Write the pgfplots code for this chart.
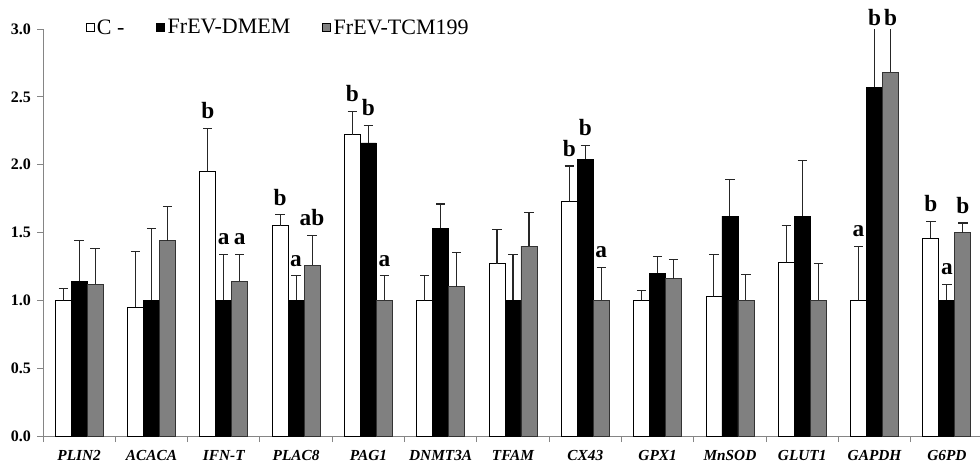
\documentclass[border=0pt]{standalone}
\usepackage{pgfplots}
\usepackage{pgfplotstable}
\pgfplotsset{compat=1.18}
\usepackage{fontspec}
\setmainfont{Liberation Serif}
\definecolor{axgray}{HTML}{858585}
\definecolor{bargray}{HTML}{808080}

% x  value  errtop
\pgfplotstableread{
x y top
0 1.00 1.09
1 0.95 1.36
2 1.95 2.27
3 1.55 1.63
4 2.22 2.39
5 1.00 1.18
6 1.27 1.52
7 1.73 1.99
8 1.00 1.07
9 1.03 1.34
10 1.28 1.55
11 1.00 1.40
12 1.46 1.58
}\cneg
\pgfplotstableread{
x y top
0 1.14 1.44
1 1.00 1.53
2 1.00 1.34
3 1.00 1.18
4 2.16 2.29
5 1.53 1.71
6 1.00 1.34
7 2.04 2.14
8 1.20 1.32
9 1.62 1.89
10 1.62 2.03
11 2.57 3.20
12 1.00 1.12
}\dmem
\pgfplotstableread{
x y top
0 1.12 1.38
1 1.44 1.69
2 1.14 1.34
3 1.26 1.48
4 1.00 1.18
5 1.10 1.35
6 1.40 1.65
7 1.00 1.24
8 1.16 1.30
9 1.00 1.19
10 1.00 1.27
11 2.68 3.30
12 1.50 1.57
}\tcm
\pgfplotstableread{
x y l
1.779 2.27 b
2 1.34 a
2.221 1.34 a
2.779 1.63 b
3 1.18 a
3.221 1.48 ab
3.779 2.39 b
4 2.29 b
4.221 1.18 a
6.779 1.99 b
7 2.14 b
7.221 1.24 a
10.779 1.40 a
11 2.95 b
11.221 2.95 b
11.779 1.58 b
12 1.12 a
12.221 1.57 b
}\letters

\begin{document}
\begin{tikzpicture}
\begin{axis}[
  scale only axis,
  width=705pt, height=305.25pt,
  xmin=-0.5, xmax=12.5,
  ymin=0, ymax=3,
  axis x line*=bottom, axis y line*=left,
  axis line style={draw=axgray, line width=0.7pt},
  clip mode=individual,
  xtick={-0.5,0.5,...,12.5},
  x tick label as interval,
  xticklabels={PLIN2,ACACA,IFN-T,PLAC8,PAG1,DNMT3A,TFAM,CX43,GPX1,MnSOD,GLUT1,GAPDH,G6PD},
  xticklabel style={font=\fontsize{11.5}{13}\selectfont\bfseries\itshape, yshift=-3pt},
  ytick={0,0.5,...,3},
  /pgf/number format/assume math mode=true,
  yticklabel style={/pgf/number format/fixed, /pgf/number format/fixed zerofill, /pgf/number format/precision=1, font=\fontsize{12}{14}\selectfont\bfseries, xshift=-1pt},
  tick align=outside,
  major tick length=4.5pt,
  xtick style={draw=axgray, line width=0.7pt},
  ytick style={draw=axgray, line width=0.7pt},
  legend columns=3,
  legend style={draw=none, fill=none, at={(rel axis cs:0.045,1.003)}, anchor=west,
    font=\fontsize{16.5}{18}\selectfont, inner sep=0pt,
    /tikz/every even column/.append style={column sep=22pt}},
  legend cell align=left,
  legend image code/.code={\draw[#1, draw=black, line width=0.5pt] (0pt,-3pt) rectangle (6pt,3pt);},
  error bars/y dir=plus, error bars/y explicit,
  error bars/error bar style={line width=0.8pt, draw=black!85},
  error bars/error mark options={line width=0.8pt, draw=black!85, mark size=3.5pt, rotate=90},
]
\addplot[ybar, bar width=0.221, bar shift=0, fill=white, draw=black, line width=0.6pt]
  table[x expr=\thisrow{x}-0.221, y=y, y error expr=\thisrow{top}-\thisrow{y}] {\cneg};
\addlegendentry{C -}
\addplot[ybar, bar width=0.221, bar shift=0, fill=black, draw=black, line width=0.6pt]
  table[x=x, y=y, y error expr=\thisrow{top}-\thisrow{y}] {\dmem};
\addlegendentry{FrEV-DMEM}
\addplot[ybar, bar width=0.221, bar shift=0, fill=bargray, draw=black!80, line width=0.6pt]
  table[x expr=\thisrow{x}+0.221, y=y, y error expr=\thisrow{top}-\thisrow{y}] {\tcm};
\addlegendentry{FrEV-TCM199}
\addplot[draw=none, mark=none, forget plot, nodes near coords, point meta=explicit symbolic,
  nodes near coords style={anchor=south, inner sep=0pt, yshift=7pt, font=\fontsize{17.5}{18}\selectfont\bfseries}]
  table[x=x, y=y, meta=l] {\letters};
\end{axis}
\pgfresetboundingbox
\path (-32.25pt,-24pt) rectangle (702.75pt,327pt);
\end{tikzpicture}
\end{document}
